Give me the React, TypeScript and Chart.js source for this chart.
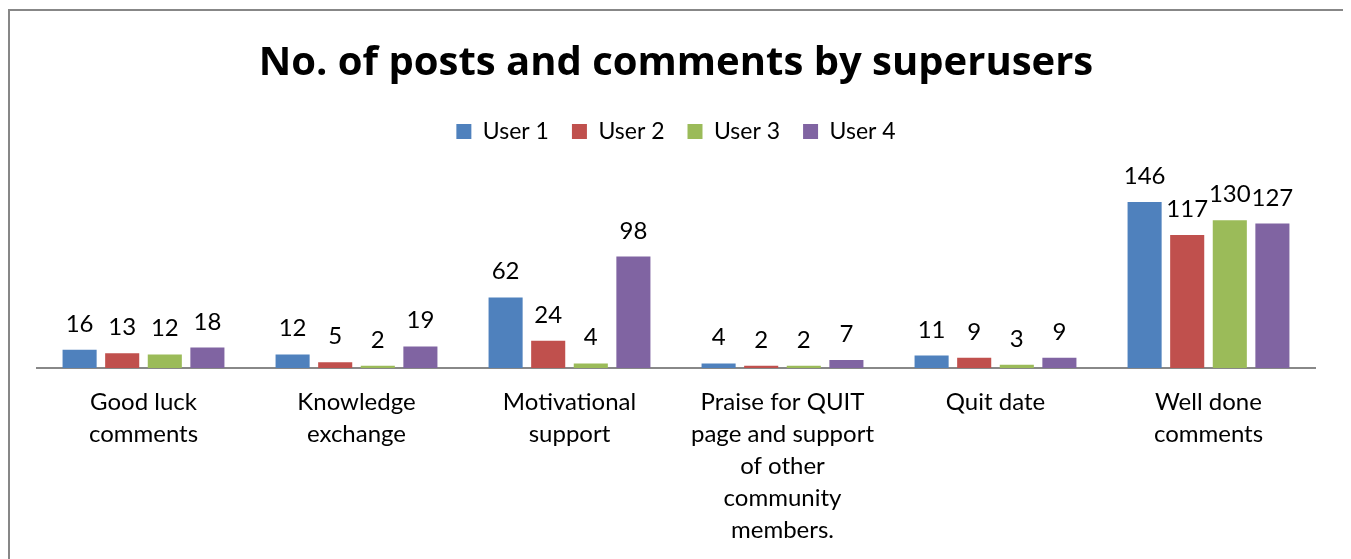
import React, { useEffect, useRef } from "react";
import { Chart, registerables } from "chart.js";

Chart.register(...registerables);

const categories: (string | string[])[] = [
  ["Good luck", "comments"],
  ["Knowledge", "exchange"],
  ["Motivational", "support"],
  ["Praise for QUIT", "page and support", "of other", "community", "members."],
  ["Quit date"],
  ["Well done", "comments"],
];

const seriesNames = ["User 1", "User 2", "User 3", "User 4"];
const user1 = [16, 12, 62, 4, 11, 146];
const user2 = [13, 5, 24, 2, 9, 117];
const user3 = [12, 2, 4, 2, 3, 130];
const user4 = [18, 19, 98, 7, 9, 127];
const colors = ["#4F81BD", "#C0504D", "#9BBB59", "#8064A2"];
const yMax = 189;

const FONT = "Lato, 'Open Sans', sans-serif";

const dataLabels = {
  id: "dataLabels",
  afterDatasetsDraw(chart: any) {
    const ctx = chart.ctx;
    ctx.save();
    ctx.font = `24px ${FONT}`;
    ctx.fillStyle = "#000";
    ctx.textAlign = "center";
    ctx.textBaseline = "alphabetic";
    chart.data.datasets.forEach((ds: any, i: number) => {
      const meta = chart.getDatasetMeta(i);
      meta.data.forEach((el: any, j: number) => {
        ctx.fillText(String(ds.data[j]), el.x, el.y - 18);
      });
    });
    ctx.restore();
  },
};

export default function App() {
  const ref = useRef<HTMLCanvasElement>(null);
  useEffect(() => {
    if (!ref.current) return;
    const all = [user1, user2, user3, user4];
    const chart = new Chart(ref.current, {
      type: "bar",
      data: {
        labels: categories,
        datasets: all.map((d, i) => ({
          label: seriesNames[i],
          data: d,
          backgroundColor: colors[i],
          borderWidth: 0,
          categoryPercentage: 0.8,
          barPercentage: 0.8,
        })),
      },
      options: {
        animation: false,
        responsive: true,
        maintainAspectRatio: false,
        layout: { padding: { left: 27, right: 28, top: 0, bottom: 3 } },
        plugins: {
          title: {
            display: true,
            text: "No. of posts and comments by superusers",
            color: "#000",
            font: { family: "'Open Sans', Lato, sans-serif", size: 40, weight: "bold" },
            padding: { top: 29, bottom: 9 },
          },
          legend: {
            display: true,
            position: "top",
            labels: {
              color: "#000",
              font: { family: FONT, size: 23 },
              boxWidth: 15,
              boxHeight: 15,
              padding: 23,
            },
          },
          tooltip: { enabled: false },
        },
        scales: {
          x: {
            grid: { display: false, drawTicks: false },
            border: { display: true, color: "#888888", width: 2 },
            ticks: {
              color: "#000",
              font: { family: FONT, size: 24, lineHeight: 1.333 },
              padding: 18,
              maxRotation: 0,
              autoSkip: false,
            },
          },
          y: {
            display: false,
            min: 0,
            max: yMax,
          },
        },
      },
      plugins: [dataLabels],
    });
    return () => chart.destroy();
  }, []);
  return (
    <div
      style={{
        position: "relative",
        top: 1,
        width: 1337,
        height: 560,
        border: "2px solid #878787",
        boxSizing: "border-box",
        background: "#fff",
      }}
    >
      <canvas ref={ref} />
    </div>
  );
}
